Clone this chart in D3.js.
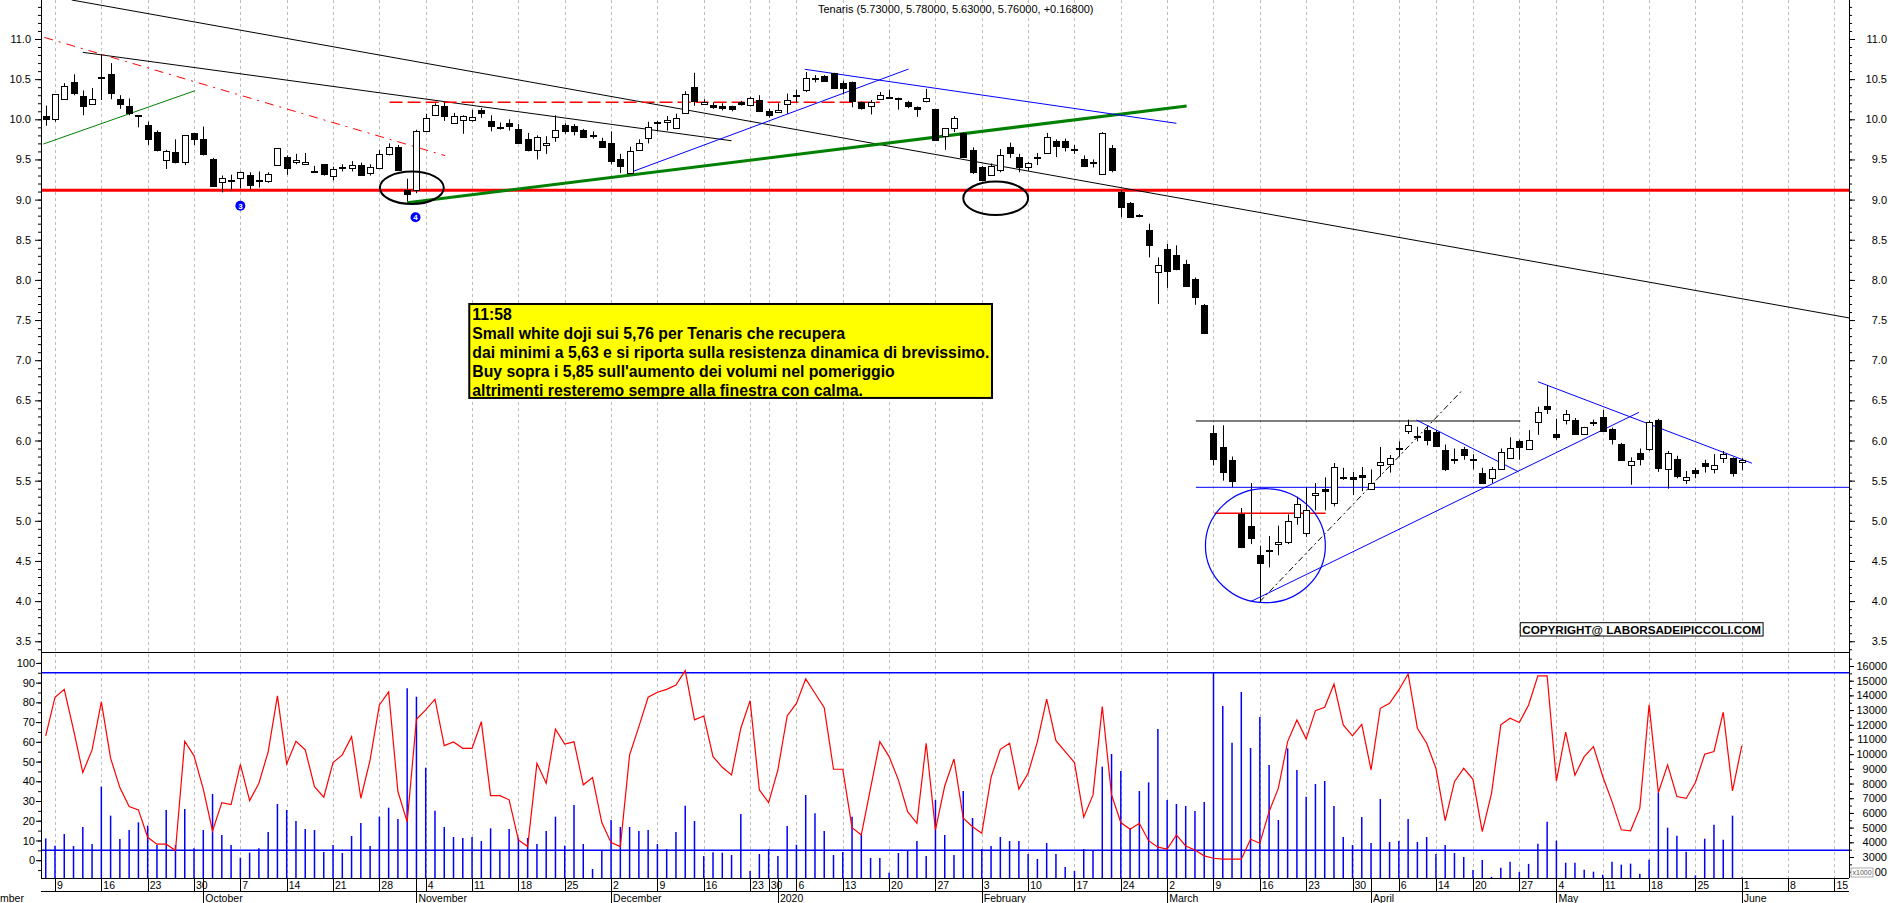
<!DOCTYPE html>
<html>
<head>
<meta charset="utf-8">
<script src="https://cdn.jsdelivr.net/npm/d3@7"></script>
<style>
  body { margin: 0; background: #fff; }
  text { font-family: "Liberation Sans", Arial, sans-serif; }
</style>
</head>
<body>
<script>
var W = 1890, H = 903;

// ---- data (index 0 = 6 Sep 2019, one entry per trading day up to 1 Jun 2020)
var openP = [
10.04,10.00,10.25,10.46,10.29,10.19,10.53,10.57,10.25,10.16,
10.05,9.93,9.84,9.50,9.59,9.46,9.83,9.75,9.50,9.22,
9.24,9.27,9.31,9.24,9.23,9.43,9.53,9.47,9.45,9.35,
9.44,9.29,9.39,9.39,9.43,9.33,9.40,9.57,9.65,9.12,
9.11,9.85,10.05,10.16,9.95,9.99,9.99,10.12,9.98,9.91,
9.95,9.88,9.75,9.62,9.68,9.78,9.93,9.92,9.87,9.80,
9.73,9.70,9.50,9.33,9.62,9.77,9.96,9.96,9.90,10.07,
10.40,10.19,10.18,10.17,10.17,10.21,10.17,10.24,10.10,10.09,
10.19,10.30,10.36,10.51,10.54,10.58,10.45,10.46,10.22,10.17,
10.25,10.27,10.26,10.21,10.15,10.22,10.13,9.79,9.89,9.83,
9.62,9.40,9.31,9.37,9.66,9.53,9.40,9.53,9.58,9.73,
9.73,9.63,9.51,9.46,9.32,9.64,9.09,8.96,8.81,8.62,
8.09,8.39,8.31,8.20,8.01,7.69,6.09,5.92,5.76,5.08,
4.94,4.58,4.63,4.72,4.74,5.05,4.85,5.32,5.40,5.22,
5.55,5.55,5.57,5.39,5.69,5.70,5.90,6.12,6.05,6.13,
6.10,5.88,5.76,5.89,5.76,5.59,5.53,5.65,5.79,5.99,
5.90,6.23,6.43,6.08,6.26,6.25,6.08,6.22,6.29,6.14,
5.96,5.69,5.85,5.89,6.26,5.64,5.77,5.50,5.63,5.72,
5.65,5.78,5.78,5.73];
var highP = [
10.17,10.31,10.45,10.56,10.36,10.39,10.81,10.70,10.30,10.26,
10.05,9.97,9.86,9.62,9.75,9.80,9.83,9.91,9.52,9.30,
9.31,9.35,9.34,9.35,9.34,9.64,9.55,9.57,9.58,9.42,
9.44,9.41,9.44,9.48,9.46,9.44,9.62,9.70,9.68,9.26,
9.87,10.07,10.20,10.21,10.08,10.05,10.12,10.14,10.05,9.96,
10.00,9.94,9.83,9.80,9.79,10.05,9.95,9.94,9.88,9.85,
9.77,9.85,9.57,9.66,9.75,9.97,9.98,10.04,10.07,10.35,
10.58,10.25,10.21,10.20,10.17,10.23,10.28,10.30,10.13,10.20,
10.32,10.37,10.59,10.55,10.55,10.58,10.48,10.47,10.22,10.24,
10.34,10.37,10.27,10.23,10.16,10.38,10.13,9.89,10.04,9.84,
9.65,9.42,9.45,9.63,9.71,9.57,9.47,9.58,9.83,9.75,
9.76,9.68,9.55,9.50,9.84,9.68,9.12,8.97,8.82,8.70,
8.28,8.45,8.43,8.25,8.03,7.70,6.19,6.19,5.80,5.16,
5.47,4.69,4.81,4.94,5.08,5.30,5.42,5.47,5.54,5.72,
5.66,5.61,5.67,5.64,5.92,5.82,5.99,6.26,6.17,6.17,
6.13,5.95,5.90,5.92,5.83,5.66,5.67,5.90,6.04,6.01,
6.13,6.42,6.69,6.27,6.38,6.28,6.17,6.26,6.38,6.16,
5.97,5.79,5.90,6.25,6.27,5.87,5.81,5.62,5.66,5.76,
5.83,5.87,5.79,5.78];
var lowP = [
9.92,9.97,10.25,10.30,10.05,10.18,10.24,10.25,10.13,10.05,
9.90,9.68,9.60,9.38,9.45,9.43,9.68,9.55,9.16,9.09,
9.11,9.14,9.12,9.15,9.21,9.43,9.31,9.44,9.44,9.34,
9.30,9.24,9.35,9.35,9.30,9.30,9.40,9.55,9.36,8.98,
9.08,9.85,10.04,9.98,9.95,9.82,9.97,10.02,9.85,9.87,
9.86,9.70,9.60,9.50,9.57,9.72,9.82,9.80,9.77,9.76,
9.65,9.44,9.33,9.33,9.62,9.70,9.85,9.86,9.90,10.07,
10.17,10.18,10.13,10.11,10.10,10.17,10.16,10.09,10.02,10.08,
10.07,10.21,10.34,10.46,10.47,10.39,10.31,10.15,10.12,10.06,
10.25,10.26,10.12,10.14,10.03,10.21,9.74,9.62,9.84,9.53,
9.32,9.23,9.30,9.34,9.52,9.34,9.36,9.43,9.58,9.53,
9.60,9.57,9.42,9.40,9.32,9.34,8.78,8.77,8.78,8.28,
7.70,7.90,8.12,7.93,7.69,7.33,5.69,5.50,5.42,4.66,
4.71,3.99,4.42,4.57,4.71,4.95,4.80,5.13,5.13,5.18,
5.51,5.32,5.37,5.39,5.55,5.60,5.80,6.08,5.99,5.94,
5.92,5.62,5.71,5.76,5.64,5.46,5.47,5.65,5.77,5.76,
5.90,6.07,6.33,6.01,6.20,6.08,6.08,6.18,6.11,5.95,
5.75,5.45,5.69,5.87,5.61,5.40,5.53,5.46,5.53,5.60,
5.59,5.72,5.55,5.63];
var closeP = [
10.00,10.31,10.41,10.32,10.17,10.25,10.52,10.33,10.19,10.07,
10.04,9.76,9.62,9.61,9.46,9.80,9.75,9.56,9.16,9.27,
9.245,9.34,9.19,9.245,9.32,9.64,9.39,9.49,9.47,9.355,
9.31,9.38,9.40,9.43,9.31,9.40,9.57,9.66,9.36,9.07,
9.85,10.01,10.18,10.03,10.04,10.04,10.03,10.08,9.92,9.90,
9.91,9.70,9.61,9.78,9.71,9.87,9.85,9.86,9.78,9.805,
9.66,9.47,9.41,9.61,9.71,9.91,9.97,9.99,10.02,10.31,
10.22,10.22,10.15,10.14,10.13,10.19,10.26,10.10,10.05,10.12,
10.24,10.305,10.51,10.52,10.48,10.39,10.39,10.22,10.15,10.22,
10.30,10.275,10.25,10.16,10.12,10.26,9.74,9.89,10.01,9.53,
9.34,9.24,9.42,9.56,9.58,9.41,9.45,9.535,9.78,9.67,
9.65,9.635,9.42,9.465,9.83,9.37,8.90,8.78,8.80,8.43,
8.18,8.11,8.14,7.93,7.79,7.34,5.77,5.61,5.50,4.67,
4.79,4.48,4.64,4.74,5.00,5.21,5.14,5.34,5.38,5.67,
5.54,5.53,5.55,5.47,5.73,5.78,5.91,6.19,6.055,6.00,
5.92,5.64,5.765,5.81,5.765,5.46,5.64,5.86,5.91,5.92,
6.01,6.36,6.39,6.04,6.33,6.08,6.17,6.225,6.11,6.01,
5.76,5.74,5.78,6.23,5.66,5.84,5.56,5.54,5.59,5.68,
5.70,5.83,5.59,5.76];
// volume, thousands of shares (right scale, x1000)
var volume = [
4269,3770,4564,3747,5040,3883,7786,5812,4224,4836,
5358,5131,3815,6198,3815,6266,3588,4836,7287,4496,
3815,2953,3293,3588,4700,6606,6198,5449,4904,4836,
3338,3815,3270,4428,5313,3747,5744,6356,5585,14479,
13912,9079,6152,5040,4360,4292,4360,4087,4950,3406,
4904,4314,4292,3883,4768,5744,3770,6538,3883,2181,
3406,5517,5040,5040,4768,4836,3883,3543,4700,6492,
5449,3066,3316,3293,3134,5925,2045,3202,3543,3066,
5108,3838,7219,5971,4768,3134,3338,5744,4564,2930,
2930,1932,3270,3429,4087,3066,6878,4496,3134,7491,
5653,3543,3747,4360,4087,4087,3202,2862,3951,3202,
2317,2045,3543,3429,9147,10010,8852,4950,7491,8081,
11711,6878,6606,6470,6129,6742,15568,13277,10781,14230,
10418,12528,9261,5517,10395,8920,7105,7967,8172,6470,
4360,3815,5721,3951,6946,4020,4087,5585,4020,4360,
3202,3815,3270,2998,2113,2794,1650,2260,2670,1980,
2530,3900,5404,4111,2613,2613,2137,2001,1797,2681,
2477,2545,1865,2817,7401,4996,4451,3362,1751,4247,
5200,4179,5813,1600];
// oscillator 0-100 (left scale of lower panel)
var oscill = [
63.0,82.6,86.6,66.0,44.4,55.9,80.2,51.7,36.8,27.2,
25.5,11.6,8.1,8.1,4.9,60.3,52.9,36.0,14.8,29.2,
28.2,48.6,30.2,39.0,54.9,83.3,48.8,60.3,55.9,37.3,
31.9,49.5,53.4,62.6,31.4,50.8,78.7,85.3,34.8,19.4,
71.4,76.2,81.6,58.1,59.9,56.7,56.7,70.2,32.7,32.7,
30.6,10.3,6.9,49.1,39.0,66.4,58.9,60.0,38.2,41.9,
19.1,8.9,6.9,53.4,67.7,82.6,85.1,86.6,88.8,96.1,
71.1,73.1,52.5,47.1,43.2,66.9,80.9,35.6,29.2,45.8,
73.1,79.5,91.9,84.6,77.3,46.1,46.1,16.5,12.8,36.5,
60.1,52.5,40.7,24.6,18.7,59.3,15.4,37.6,51.3,21.3,
17.0,13.7,42.0,56.2,59.3,36.0,44.1,60.1,81.6,60.6,
55.0,49.5,21.8,33.1,77.9,33.1,19.1,15.7,18.7,9.9,
6.6,5.6,12.8,7.2,5.2,2.2,1.0,0.5,0.5,0.5,
10.6,8.6,24.6,36.5,60.1,71.1,61.5,75.8,77.5,89.3,
68.6,63.0,68.9,45.8,77.0,79.5,86.3,94.4,66.9,59.3,
46.6,20.1,39.8,46.6,41.0,14.5,33.9,68.6,72.0,69.8,
78.7,93.4,93.4,40.2,64.9,43.1,52.5,57.6,42.4,29.7,
15.4,14.9,26.4,78.7,34.3,48.3,32.3,31.3,39.4,53.7,
55.1,75.0,35.1,57.9];
var oscLevels = [5, 95];

var holidays = ["2019-12-24","2019-12-25","2019-12-26","2019-12-31","2020-01-01","2020-04-10","2020-04-13","2020-05-01"];

// drawn studies: [day index, price] pairs
var blackLines  = [[[2.8, 11.486], [194.6, 7.526]], [[4.0, 10.834], [74.0, 9.733]], [[124.1, 6.243], [159.1, 6.243]]];
var blueLines   = [[[63.0, 9.335], [93.1, 10.626]], [[81.9, 10.623], [122.0, 9.95]], [[124.1, 5.417], [195, 5.417]],
                   [[130.0, 3.993], [171.9, 6.351]], [[147.9, 6.255], [158.9, 5.611]], [[161.0, 6.732], [184.1, 5.717]]];
var greenThin   = [[[-0.26, 9.692], [16.1, 10.356]]];
var greenThick  = [[[39.0, 8.962], [123.1, 10.166]]];
var redSupport  = [[[-2, 9.115], [196, 9.115]]];
var redDashed   = [[[37.1, 10.212], [90.0, 10.212]]];
var redShort    = [[[126.1, 5.093], [138.1, 5.093]]];
var redDashDot  = [[[-0.15, 11.02], [43.1, 9.547]]];
var blackDashDot = [[[131.0, 3.993], [152.95, 6.638]]];
var ovals = [{c: [39.5, 9.147], r: [3.45, 0.202]}, {c: [102.5, 9.016], r: [3.5, 0.208]}];
var blueCircle = {c: [131.6, 4.69], r: [6.47, 0.71]};
var markers = [{c: [21.0, 8.924], t: "3"}, {c: [39.9, 8.78], t: "4"}];

var titleText = "Tenaris (5.73000, 5.78000, 5.63000, 5.76000, +0.16800)";
var noteLines = ["11:58",
  "Small white doji sui 5,76 per Tenaris che recupera",
  "dai minimi a 5,63 e si riporta sulla resistenza dinamica di brevissimo.",
  "Buy sopra i 5,85 sull'aumento dei volumi nel pomeriggio",
  "altrimenti resteremo sempre alla finestra con calma."];
var copyText = "COPYRIGHT@ LABORSADEIPICCOLI.COM";

// ---- trading days (data) and plain weekdays after the last bar
var days = [];
var fmtKey = d3.timeFormat("%Y-%m-%d");
for (var d = new Date(2019, 8, 6); d <= new Date(2020, 5, 19); d.setDate(d.getDate() + 1)) {
  var wd = d.getDay();
  if (wd == 0 || wd == 6) continue;
  if (holidays.indexOf(fmtKey(d)) >= 0) continue;
  days.push(new Date(d));
}

var L = 41, R = 1849, pBot = 652, oBot = 878;
var x = d3.scaleLinear().domain([-0.51, 194.57]).range([L, R]);
var yP = d3.scaleLinear().domain([3.5, 11]).range([641.25, 39]);
var yO = d3.scaleLinear().domain([0, 100]).range([860.2, 662.9]);
var yV = d3.scaleLinear().domain([1570, 16000]).range([oBot, 666]);

var svg = d3.select("body").append("svg").attr("width", W).attr("height", H);
svg.append("rect").attr("width", W).attr("height", H).attr("fill", "#fff");

var defs = svg.append("defs");
defs.append("clipPath").attr("id", "cp").append("rect").attr("x", L).attr("y", 0).attr("width", R - L).attr("height", pBot);
defs.append("clipPath").attr("id", "co").append("rect").attr("x", L).attr("y", pBot).attr("width", R - L).attr("height", oBot - pBot);
defs.append("clipPath").attr("id", "cx").append("rect").attr("x", L).attr("y", oBot).attr("width", R - L).attr("height", H - oBot);

var px = function(i) { return Math.round(x(i)) + 0.5; };

// week starts and month starts
var weekIdx = [], monthIdx = [];
for (var k = 1; k < days.length; k++) {
  if (d3.timeMonday.floor(days[k]).getTime() != d3.timeMonday.floor(days[k - 1]).getTime()) weekIdx.push(k);
  if (days[k].getMonth() != days[k - 1].getMonth()) monthIdx.push(k);
}

// gridlines
svg.append("g").selectAll("line").data(weekIdx).enter().append("line")
  .attr("x1", px).attr("x2", px).attr("y1", 0).attr("y2", oBot)
  .attr("stroke", "#bdbdbd").attr("stroke-dasharray", "3,3");

// ---- price panel
var gp = svg.append("g").attr("clip-path", "url(#cp)");
var seg = function(p) { return "M" + x(p[0][0]) + "," + yP(p[0][1]) + "L" + x(p[1][0]) + "," + yP(p[1][1]); };
function drawLines(list, color, width, dash) {
  gp.append("g").selectAll("path").data(list).enter().append("path")
    .attr("d", seg).attr("fill", "none").attr("stroke", color).attr("stroke-width", width)
    .attr("stroke-dasharray", dash || null);
}
drawLines(redSupport, "#ff0000", 3);
drawLines(blackLines, "#000", 1);
drawLines(redDashDot, "#ff0000", 1, "9,6,2,6");
drawLines(redDashed, "#ff0000", 1.5, "13,5");
drawLines(redShort, "#ff0000", 1.5);
drawLines(greenThin, "#008000", 1);
drawLines(greenThick, "#008000", 3);
drawLines(blueLines, "#0000ff", 1);
drawLines(blackDashDot, "#000", 1, "6,3,2,3");

// candles
var candles = gp.append("g").selectAll("g").data(closeP).enter().append("g");
candles.append("line")
  .attr("x1", function(c, i) { return px(i); }).attr("x2", function(c, i) { return px(i); })
  .attr("y1", function(c, i) { return yP(highP[i]); }).attr("y2", function(c, i) { return yP(lowP[i]); })
  .attr("stroke", "#000");
candles.append("rect")
  .attr("x", function(c, i) { return Math.round(x(i)) - 3 + 0.5; }).attr("width", 6)
  .attr("y", function(c, i) { return Math.round(yP(Math.max(c, openP[i]))) + 0.5; })
  .attr("height", function(c, i) { return Math.max(1, Math.round(Math.abs(yP(c) - yP(openP[i])))); })
  .attr("fill", function(c, i) { return c >= openP[i] ? "#fff" : "#000"; })
  .attr("stroke", "#000");

// ovals, circle, markers
gp.append("g").selectAll("ellipse").data(ovals).enter().append("ellipse")
  .attr("cx", function(o) { return x(o.c[0]); }).attr("cy", function(o) { return yP(o.c[1]); })
  .attr("rx", function(o) { return x(o.r[0]) - x(0); }).attr("ry", function(o) { return yP(0) - yP(o.r[1]); })
  .attr("fill", "none").attr("stroke", "#000").attr("stroke-width", 2);
gp.append("ellipse")
  .attr("cx", x(blueCircle.c[0])).attr("cy", yP(blueCircle.c[1]))
  .attr("rx", x(blueCircle.r[0]) - x(0)).attr("ry", yP(0) - yP(blueCircle.r[1]))
  .attr("fill", "none").attr("stroke", "#0000ff").attr("stroke-width", 1.2);
var mk = gp.append("g").selectAll("g").data(markers).enter().append("g")
  .attr("transform", function(m) { return "translate(" + x(m.c[0]) + "," + yP(m.c[1]) + ")"; });
mk.append("circle").attr("r", 5).attr("fill", "#0000ff");
mk.append("text").text(function(m) { return m.t; }).attr("text-anchor", "middle").attr("y", 3)
  .attr("fill", "#fff").attr("font-size", "8px").attr("font-weight", "bold");

// title
svg.append("text").attr("x", 818).attr("y", 13).attr("font-size", "11px").attr("fill", "#000").text(titleText);

// yellow note
var nx0 = x(45.7), nx1 = x(102.1), ny0 = yP(7.70), ny1 = yP(6.53);
svg.append("rect").attr("x", nx0).attr("y", ny0).attr("width", nx1 - nx0).attr("height", ny1 - ny0)
  .attr("fill", "#ffff00").attr("stroke", "#000").attr("stroke-width", 2);
svg.append("g").selectAll("text").data(noteLines).enter().append("text")
  .attr("x", nx0 + 3).attr("y", function(t, i) { return ny0 + 16.5 + i * 18.8; })
  .attr("font-size", "15.8px").attr("font-weight", "bold").attr("fill", "#000").text(function(t) { return t; });

// copyright
var cx0 = x(159.1), cx1 = x(185.3), cy0 = yP(3.731), cy1 = yP(3.565);
svg.append("rect").attr("x", cx0).attr("y", cy0).attr("width", cx1 - cx0).attr("height", cy1 - cy0)
  .attr("fill", "#fff").attr("stroke", "#000");
svg.append("text").attr("x", cx0 + 2).attr("y", cy1 - 2.5).attr("font-size", "11px").attr("font-weight", "bold")
  .attr("textLength", cx1 - cx0 - 4).attr("lengthAdjust", "spacingAndGlyphs").text(copyText);

// ---- lower panel
var go = svg.append("g").attr("clip-path", "url(#co)");
go.append("g").selectAll("line").data(volume).enter().append("line")
  .attr("x1", function(v, i) { return x(i); }).attr("x2", function(v, i) { return x(i); })
  .attr("y1", oBot).attr("y2", function(v) { return yV(v); })
  .attr("stroke", "#0000ff").attr("stroke-width", 1.5);
go.append("g").selectAll("line").data(oscLevels).enter().append("line")
  .attr("x1", L).attr("x2", R).attr("y1", yO).attr("y2", yO)
  .attr("stroke", "#0000ff").attr("stroke-width", 1.5);
go.append("path").datum(oscill)
  .attr("d", d3.line().x(function(v, i) { return x(i); }).y(function(v) { return yO(v); }))
  .attr("fill", "none").attr("stroke", "#ff0000").attr("stroke-width", 1.2);

// ---- frame and axes
var frame = svg.append("g").attr("stroke", "#000").attr("shape-rendering", "crispEdges");
frame.append("line").attr("x1", L).attr("x2", L).attr("y1", 0).attr("y2", oBot);
frame.append("line").attr("x1", R).attr("x2", R).attr("y1", 0).attr("y2", oBot);
frame.append("line").attr("x1", L).attr("x2", R).attr("y1", pBot).attr("y2", pBot);
frame.append("line").attr("x1", L).attr("x2", R).attr("y1", oBot).attr("y2", oBot);
frame.append("line").attr("x1", L).attr("x2", R).attr("y1", 891).attr("y2", 891);

function styleAxis(g, anchorEndX) {
  g.select(".domain").remove();
  g.selectAll("line").attr("stroke", "#000");
  g.selectAll("text").attr("font-family", "Liberation Sans, Arial, sans-serif").attr("font-size", "11px").attr("fill", "#000");
  if (anchorEndX) g.selectAll("text").attr("text-anchor", "end").attr("x", anchorEndX);
}
var f1 = d3.format(".1f");
var priceMajor = d3.range(7, 23).map(function(k) { return k / 2; });
var priceMinor = d3.range(34, 115).map(function(k) { return k / 10; });
svg.append("g").attr("transform", "translate(" + L + ",0)")
  .call(d3.axisLeft(yP).tickValues(priceMinor).tickSize(3).tickFormat("")).call(styleAxis);
svg.append("g").attr("transform", "translate(" + L + ",0)")
  .call(d3.axisLeft(yP).tickValues(priceMajor).tickSize(6).tickPadding(4).tickFormat(f1)).call(styleAxis);
svg.append("g").attr("transform", "translate(" + R + ",0)")
  .call(d3.axisRight(yP).tickValues(priceMinor).tickSize(3).tickFormat("")).call(styleAxis);
svg.append("g").attr("transform", "translate(" + R + ",0)")
  .call(d3.axisRight(yP).tickValues(priceMajor).tickSize(6).tickFormat(f1)).call(function(g) { styleAxis(g, 38); });

svg.append("g").attr("transform", "translate(" + L + ",0)")
  .call(d3.axisLeft(yO).tickValues(d3.range(-5, 101, 5)).tickSize(3).tickFormat("")).call(styleAxis);
svg.append("g").attr("transform", "translate(" + L + ",0)")
  .call(d3.axisLeft(yO).tickValues(d3.range(0, 101, 10)).tickSize(5).tickPadding(1)).call(styleAxis);
svg.append("g").attr("transform", "translate(" + R + ",0)")
  .call(d3.axisRight(yV).tickValues(d3.range(2000, 16501, 500)).tickSize(3).tickFormat("")).call(styleAxis);
// 2000 sits under the x1000 tag, as on the original
svg.append("g").attr("transform", "translate(" + R + ",0)")
  .call(d3.axisRight(yV).tickValues(d3.range(3000, 16001, 1000)).tickSize(5).tickFormat(d3.format("d"))).call(function(g) { styleAxis(g, 38); });
svg.append("text").attr("x", R + 38).attr("y", yV(2000) + 4).attr("text-anchor", "end").attr("font-size", "11px").text("00");
var xb = svg.append("g").attr("transform", "translate(" + (R + 2) + "," + (oBot - 10) + ")");
xb.append("rect").attr("width", 22).attr("height", 9).attr("fill", "#fff").attr("stroke", "#888").attr("stroke-width", 0.7);
xb.append("text").attr("x", 1.5).attr("y", 7).attr("font-size", "7px").attr("fill", "#555").text("x1000");

// ---- time axis
var gx = svg.append("g").attr("clip-path", "url(#cx)");
gx.append("g").selectAll("line").data(weekIdx).enter().append("line")
  .attr("x1", px).attr("x2", px).attr("y1", oBot).attr("y2", 891).attr("stroke", "#000");
gx.append("g").selectAll("text").data(weekIdx).enter().append("text")
  .attr("x", function(k) { return x(k) + 2; }).attr("y", 888.5).attr("font-size", "10.5px")
  .text(function(k) { return d3.timeFormat("%-d")(days[k]); });
var fmtMonth = function(dt) { return dt.getMonth() == 0 ? d3.timeFormat("%Y")(dt) : d3.timeFormat("%B")(dt); };
gx.append("g").selectAll("line").data(monthIdx).enter().append("line")
  .attr("x1", px).attr("x2", px).attr("y1", oBot).attr("y2", H).attr("stroke", "#000");
gx.append("g").selectAll("text").data(monthIdx).enter().append("text")
  .attr("x", function(k) { return x(k) + 2; }).attr("y", 902).attr("font-size", "10.5px")
  .text(function(k) { return fmtMonth(days[k]); });
// September label runs off the left edge of the window, only its tail shows
svg.append("text").attr("x", x(-2.35)).attr("y", 902).attr("text-anchor", "end").attr("font-size", "10.5px").text("September");
</script>
</body>
</html>
